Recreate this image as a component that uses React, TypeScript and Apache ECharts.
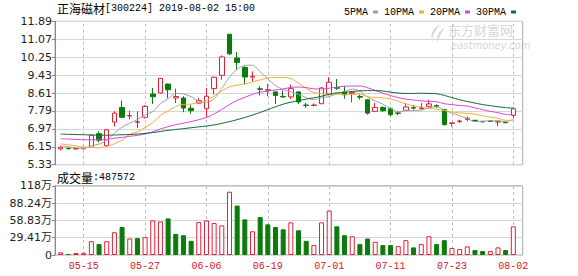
import React, { useEffect, useRef } from 'react';
import * as echarts from 'echarts';

const dates = [
  '05-10','05-13','05-14','05-15','05-16','05-17','05-20','05-21','05-22','05-23','05-24','05-27','05-28','05-29','05-30','05-31',
  '06-03','06-04','06-05','06-06','06-10','06-11','06-12','06-13','06-14','06-17','06-18','06-19','06-20','06-21','06-24','06-25','06-26','06-27','06-28',
  '07-01','07-02','07-03','07-04','07-05','07-08','07-09','07-10','07-11','07-12','07-15','07-16','07-17','07-18','07-19','07-22','07-23','07-24','07-25','07-26','07-29','07-30','07-31',
  '08-01','08-02'
];
const xTickLabels = ['05-15','05-27','06-06','06-19','07-01','07-11','07-23','08-02'];
const priceTickLabels = ['5.33','6.15','6.97','7.79','8.61','9.43','10.25','11.07','11.89'];
const volTickLabels = ['0','29.41万','58.83万','88.24万','118万'];

const opens = [6.05,6.08,6.05,6.06,6.12,6.75,6.20,7.28,7.95,7.56,7.27,7.50,8.56,8.61,9.02,8.38,8.38,7.91,8.15,7.89,
  8.81,9.42,11.30,10.21,9.78,9.34,8.80,8.74,8.66,8.45,8.43,8.66,8.06,8.04,8.12,8.56,8.86,8.66,8.60,8.45,
  8.30,7.77,7.95,7.89,7.70,7.82,7.94,7.90,8.00,8.04,7.85,7.22,7.30,7.40,7.36,7.31,7.33,7.28,7.27,7.59];
const closes = [6.13,6.06,6.07,6.08,6.68,6.45,6.93,7.69,7.50,7.58,7.29,8.00,8.44,9.28,8.76,8.45,7.92,7.80,8.26,8.46,
  9.33,10.26,10.40,10.01,9.34,9.38,8.78,8.76,8.50,8.43,8.81,8.20,8.04,8.06,8.84,9.10,8.83,8.53,8.64,8.42,
  7.69,7.95,7.80,7.62,7.68,7.97,7.92,7.94,8.11,8.00,7.16,7.24,7.33,7.45,7.33,7.29,7.31,7.32,7.25,7.89];
const lows = [5.98,6.03,6.03,6.04,6.10,6.35,6.18,7.08,7.47,7.40,7.01,7.44,8.11,8.58,8.38,8.15,7.73,7.66,8.12,7.50,
  8.55,9.22,10.35,9.68,9.02,9.14,8.50,8.46,8.11,8.40,8.34,8.11,7.92,8.00,8.10,8.50,8.76,8.35,8.18,8.31,
  7.62,7.76,7.74,7.54,7.59,7.81,7.85,7.84,7.99,7.94,7.13,7.08,7.24,7.32,7.30,7.27,7.29,7.09,7.23,7.45];
const highs = [6.18,6.12,6.09,6.10,6.70,6.86,6.96,7.77,8.26,7.80,7.77,8.05,8.84,9.30,9.04,8.81,8.46,8.05,8.38,8.84,
  9.36,10.33,11.30,10.49,9.83,9.60,8.92,9.02,8.68,8.72,8.99,8.69,8.15,8.13,8.88,9.33,9.25,8.92,8.66,8.53,
  8.32,8.15,8.00,7.95,7.80,8.15,8.05,8.15,8.30,8.08,7.89,7.26,7.39,7.54,7.38,7.33,7.34,7.33,7.28,7.95];

const ma5 = [6.20,6.15,6.10,6.08,6.20,6.27,6.44,6.77,7.05,7.23,7.40,7.61,7.76,8.12,8.35,8.59,8.57,8.44,8.24,8.18,
  8.35,8.82,9.34,9.69,9.87,9.88,9.58,9.25,8.95,8.77,8.66,8.54,8.40,8.31,8.39,8.45,8.57,8.67,8.79,8.70,
  8.42,8.25,8.10,7.90,7.75,7.80,7.80,7.83,7.93,7.98,7.83,7.69,7.57,7.44,7.30,7.32,7.34,7.34,7.30,7.41];
const ma10 = [6.28,6.24,6.19,6.14,6.12,6.10,6.16,6.29,6.45,6.72,6.83,7.03,7.26,7.58,7.79,7.99,8.09,8.10,8.18,8.27,
  8.47,8.70,8.89,8.97,9.02,9.12,9.21,9.30,9.32,9.32,9.27,9.06,8.82,8.63,8.58,8.55,8.56,8.53,8.55,8.55,
  8.44,8.41,8.39,8.34,8.23,8.11,8.02,7.96,7.91,7.87,7.81,7.74,7.70,7.68,7.64,7.57,7.51,7.45,7.36,7.36];
const ma20 = [6.52,6.50,6.49,6.47,6.47,6.47,6.49,6.54,6.58,6.63,6.67,6.74,6.83,6.96,7.07,7.16,7.23,7.30,7.39,7.49,
  7.65,7.86,8.08,8.27,8.41,8.55,8.65,8.70,8.75,8.79,8.87,8.88,8.86,8.80,8.80,8.83,8.88,8.92,8.93,8.93,
  8.85,8.73,8.60,8.49,8.40,8.33,8.29,8.25,8.23,8.21,8.12,8.08,8.04,8.01,7.93,7.85,7.77,7.71,7.63,7.61];
const ma30 = [6.73,6.72,6.71,6.70,6.69,6.68,6.68,6.69,6.70,6.71,6.73,6.76,6.80,6.85,6.90,6.94,6.98,7.02,7.06,7.10,
  7.15,7.22,7.30,7.39,7.49,7.60,7.72,7.85,7.98,8.10,8.19,8.26,8.33,8.39,8.46,8.55,8.62,8.64,8.68,8.71,
  8.72,8.72,8.70,8.65,8.61,8.59,8.59,8.60,8.59,8.58,8.50,8.40,8.30,8.22,8.15,8.08,8.03,7.98,7.94,7.92];

// volume in 万 (10k lots)
const volumes = [4.5,1.7,3.4,3.9,23.5,18.5,23.5,38.7,47.6,28.0,28.6,30.3,58.8,57.1,62.2,35.9,33.6,24.1,56.0,58.8,
  54.3,50.4,107.6,84.0,60.5,40.3,64.4,52.1,47.6,43.7,55.5,42.0,24.1,16.8,55.5,75.6,48.7,33.6,31.9,18.5,
  28.0,22.4,16.8,16.8,15.1,25.2,12.9,18.5,31.9,18.5,25.2,11.8,10.1,14.6,8.4,6.7,6.7,12.9,8.4,48.76];

const RED = '#e0203a';
const GREEN = '#0b7b0b';
const MA_COLORS = ['#a0a0a0', '#f0b030', '#e040e0', '#0e6b35'];

const PRICE_MIN = 5.33, PRICE_MAX = 11.89, PRICE_STEP = 0.82;
const VOL_MAX = 117.65, VOL_STEP = 29.4125;

const FRAME_LEFT = 55, FRAME_W = 467.7;
const DATA_LEFT = 56.86, DATA_W = 460.3;
const MAIN_TOP = 21.3, MAIN_H = 143.4;
const VOL_TOP = 185.8, VOL_H = 69.2;

const ASCII_FONT = 'Liberation Mono';
const CJK_FONT = 'Noto Sans CJK SC';

echarts.graphic.registerShape(
  'emlogo',
  echarts.graphic.extendPath(
    'M13 0 C5 4 1 10 5 19 C3 12 7 6 13 0 Z M17 3 C10 8 8 13 10 19 C11 13 13 9 17 3 Z',
    {}
  )
);

export default function App() {
  const ref = useRef<HTMLDivElement>(null);
  useEffect(() => {
    if (!ref.current) return;
    const chart = echarts.init(ref.current, null, { renderer: 'svg' });
    const candleData = dates.map((_, i) => [opens[i], closes[i], lows[i], highs[i]]);
    const volData = volumes.map((v, i) => {
      const up = i === 0 ? closes[i] >= opens[i] : closes[i] >= closes[i - 1];
      return {
        value: v,
        itemStyle: up
          ? { color: '#ffffff', borderColor: RED, borderWidth: 1 }
          : { color: GREEN, borderColor: GREEN, borderWidth: 1 },
      };
    });
    const vLines = {
      silent: true,
      symbol: ['none', 'none'],
      label: { show: false },
      lineStyle: { type: [3, 3], color: '#bdbdbd', width: 1 },
      emphasis: { disabled: true },
      data: xTickLabels.map((d) => ({ xAxis: d })),
      z: 0,
    };
    const maNames = ['5PMA', '10PMA', '20PMA', '30PMA'];
    const maData = [ma5, ma10, ma20, ma30];

    chart.setOption({
      animation: false,
      backgroundColor: '#ffffff',
      legend: {
        data: maNames,
        left: 339,
        top: 2,
        align: 'right',
        icon: 'rect',
        itemWidth: 5,
        itemHeight: 3,
        itemGap: 6,
        selectedMode: false,
        textStyle: { fontFamily: ASCII_FONT, fontSize: 10, color: '#000' },
      },
      grid: [
        { left: FRAME_LEFT, top: MAIN_TOP, width: FRAME_W, height: MAIN_H, show: true, borderColor: '#a8a8a8', borderWidth: 1, backgroundColor: 'transparent' },
        { left: DATA_LEFT, top: MAIN_TOP, width: DATA_W, height: MAIN_H },
        { left: FRAME_LEFT, top: VOL_TOP, width: FRAME_W, height: VOL_H, show: true, borderColor: '#a8a8a8', borderWidth: 1, backgroundColor: 'transparent' },
        { left: DATA_LEFT, top: VOL_TOP, width: DATA_W, height: VOL_H },
      ],
      xAxis: [
        { gridIndex: 0, type: 'value', min: 0, max: 1, show: false },
        { gridIndex: 1, type: 'category', data: dates, boundaryGap: true, show: false },
        { gridIndex: 2, type: 'value', min: 0, max: 1, show: false },
        {
          gridIndex: 3,
          type: 'category',
          data: dates,
          boundaryGap: true,
          axisLine: { show: false },
          axisTick: { show: false },
          splitLine: { show: false },
          axisLabel: {
            interval: (_i: number, v: string) => xTickLabels.includes(v),
            color: '#d0202a',
            fontFamily: ASCII_FONT,
            fontSize: 10,
            margin: 6,
          },
        },
      ],
      yAxis: [
        {
          gridIndex: 0,
          type: 'value',
          min: PRICE_MIN,
          max: PRICE_MAX,
          interval: PRICE_STEP,
          axisLine: { show: true, lineStyle: { color: '#888' } },
          axisTick: { show: true, length: 3, lineStyle: { color: '#888' } },
          splitLine: { show: true, lineStyle: { color: '#d6d6d6', width: 1 } },
          axisLabel: {
            margin: 3,
            color: '#222',
            fontFamily: 'DejaVu Sans',
            fontSize: 11,
            formatter: (v: number) => priceTickLabels[Math.round((v - PRICE_MIN) / PRICE_STEP)] ?? '',
          },
        },
        { gridIndex: 1, type: 'value', min: PRICE_MIN, max: PRICE_MAX, show: false },
        {
          gridIndex: 2,
          type: 'value',
          min: 0,
          max: VOL_MAX,
          interval: VOL_STEP,
          axisLine: { show: true, lineStyle: { color: '#888' } },
          axisTick: { show: true, length: 3, lineStyle: { color: '#888' } },
          splitLine: { show: true, lineStyle: { color: '#d6d6d6', width: 1 } },
          axisLabel: {
            margin: 3,
            color: '#222',
            fontFamily: 'DejaVu Sans, ' + CJK_FONT,
            fontSize: 11,
            formatter: (v: number) => volTickLabels[Math.round(v / VOL_STEP)] ?? '',
          },
        },
        { gridIndex: 3, type: 'value', min: 0, max: VOL_MAX, show: false },
      ],
      graphic: [
        {
          type: 'text',
          x: 57,
          y: 8,
          style: {
            text: '{a|正海磁材}{b|[300224] 2019-08-02 15:00}',
            verticalAlign: 'middle',
            rich: {
              a: { fontFamily: CJK_FONT, fontSize: 12, fill: '#000' },
              b: { fontFamily: ASCII_FONT, fontSize: 10, fill: '#000' },
            },
          },
        },
        {
          type: 'text',
          x: 57,
          y: 177,
          style: {
            text: '{a|成交量}{b|:487572}',
            verticalAlign: 'middle',
            rich: {
              a: { fontFamily: CJK_FONT, fontSize: 12, fill: '#000' },
              b: { fontFamily: ASCII_FONT, fontSize: 10, fill: '#000' },
            },
          },
        },
        {
          type: 'emlogo',
          x: 428,
          y: 24,
          z: -1,
          style: { fill: '#d6d6d6' },
        },
        {
          type: 'text',
          x: 448,
          y: 29,
          z: -1,
          style: {
            text: '东方财富网',
            fontFamily: CJK_FONT,
            fontSize: 13,
            lineHeight: 13,
            fill: '#d6d6d6',
            verticalAlign: 'middle',
          },
        },
        {
          type: 'text',
          x: 451,
          y: 45,
          z: -1,
          style: {
            text: 'eastmoney.com',
            fontFamily: 'DejaVu Sans',
            fontStyle: 'italic',
            fontSize: 10,
            lineHeight: 10,
            fill: '#d6d6d6',
            verticalAlign: 'middle',
          },
        },
      ],
      series: [
        {
          type: 'candlestick',
          name: 'K',
          xAxisIndex: 1,
          yAxisIndex: 1,
          data: candleData,
          barWidth: 5,
          itemStyle: {
            color: '#ffffff',
            color0: GREEN,
            borderColor: RED,
            borderColor0: GREEN,
            borderWidth: 1,
          },
          markLine: vLines,
          z: 2,
        },
        ...maNames.map((n, k) => ({
          type: 'line',
          name: n,
          xAxisIndex: 1,
          yAxisIndex: 1,
          data: maData[k],
          symbol: 'none',
          smooth: 0.3,
          lineStyle: { width: 1, color: MA_COLORS[k] },
          itemStyle: { color: MA_COLORS[k] },
          z: 3,
        })),
        {
          type: 'bar',
          name: 'VOL',
          xAxisIndex: 3,
          yAxisIndex: 3,
          data: volData,
          barWidth: 5,
          markLine: vLines,
        },
      ],
    });
    return () => chart.dispose();
  }, []);
  return <div ref={ref} style={{ position: 'fixed', left: 0, top: 0, width: 578, height: 276 }} />;
}
